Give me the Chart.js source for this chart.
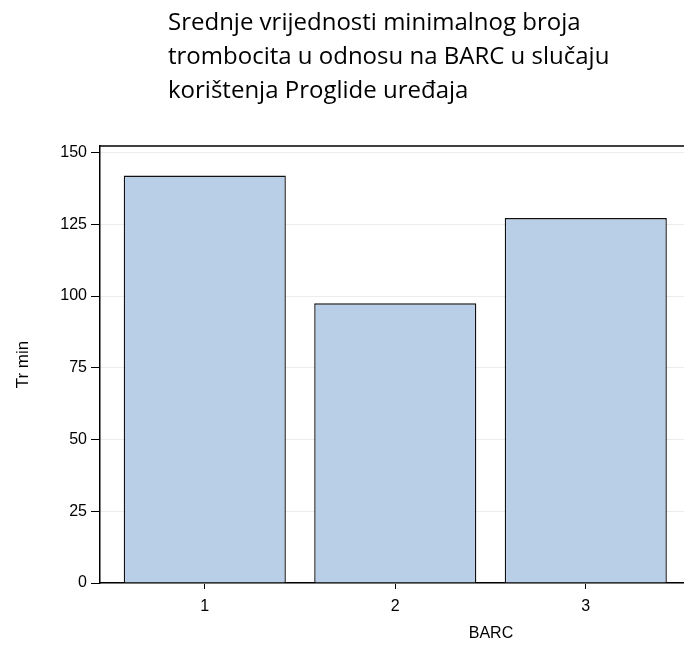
<!DOCTYPE html>
<html>
<head>
<meta charset="utf-8">
<script src="https://cdn.jsdelivr.net/npm/chart.js@4/dist/chart.umd.min.js"></script>
<style>
html, body { margin: 0; padding: 0; background: #fff; overflow: hidden; }
#wrap { width: 684px; height: 649px; overflow: hidden; }
</style>
</head>
<body>
<div id="wrap"><canvas id="chart" width="882" height="649"></canvas></div>
<script>
// data
const categories = [1, 2, 3];
const trMin = [142, 97.5, 127.2];
const yTicks = [0, 25, 50, 75, 100, 125, 150];
const titleLines = [
    'Srednje vrijednosti minimalnog broja',
    'trombocita u odnosu na BARC u slučaju',
    'korištenja Proglide uređaja'
];

const axisFont = { family: 'Liberation Sans', size: 16 };

// left aligned title + top frame line of the plot region
const titlePlugin = {
    id: 'leftTitle',
    afterDraw(chart) {
        const ctx = chart.ctx;
        const a = chart.chartArea;
        ctx.save();
        ctx.font = '24px "Open Sans"';
        ctx.fillStyle = '#000';
        ctx.textBaseline = 'alphabetic';
        titleLines.forEach(function (line, i) {
            ctx.fillText(line, 168, 30 + i * 34);
        });
        ctx.strokeStyle = '#000';
        ctx.lineWidth = 1.5;
        ctx.beginPath();
        ctx.moveTo(a.left, a.top);
        ctx.lineTo(a.right, a.top);
        ctx.stroke();
        ctx.restore();
    }
};

const ctx = document.getElementById('chart').getContext('2d');
new Chart(ctx, {
    type: 'bar',
    data: {
        datasets: [{
            label: 'Tr min',
            data: categories.map(function (c, i) { return { x: c, y: trMin[i] }; }),
            backgroundColor: '#b9cfe7',
            borderColor: '#111',
            borderWidth: 1.4,
            barPercentage: 0.851,
            categoryPercentage: 1
        }]
    },
    options: {
        responsive: false,
        animation: false,
        layout: { padding: { top: 146, right: 0, bottom: 0, left: 0 } },
        plugins: {
            legend: { display: false },
            tooltip: { enabled: false },
            title: { display: false }
        },
        scales: {
            x: {
                type: 'linear',
                min: 0.45,
                max: 4.555,
                offset: false,
                afterBuildTicks: function (s) { s.ticks = categories.map(function (v) { return { value: v }; }); },
                afterFit: function (s) { s.height = 66; },
                grid: { offset: false, drawOnChartArea: false, tickLength: 6, tickColor: '#000', tickWidth: 1 },
                border: { color: '#000', width: 1.5 },
                ticks: { padding: 8, color: '#000', font: axisFont },
                title: { display: true, text: 'BARC', color: '#000', font: axisFont, padding: { top: 0, bottom: 6 } }
            },
            y: {
                min: 0,
                max: 152.3,
                afterBuildTicks: function (s) { s.ticks = yTicks.map(function (v) { return { value: v }; }); },
                afterFit: function (s) { s.width = 100; },
                grid: { color: '#ececec', lineWidth: 1, tickLength: 9, tickColor: '#000', tickWidth: 1 },
                border: { color: '#000', width: 1.5 },
                ticks: { padding: 4, color: '#000', font: axisFont },
                title: { display: true, text: 'Tr min', color: '#000', font: { family: 'Liberation Sans', size: 17 }, padding: { top: 13, bottom: 0 } }
            }
        }
    },
    plugins: [titlePlugin]
});
</script>
</body>
</html>
